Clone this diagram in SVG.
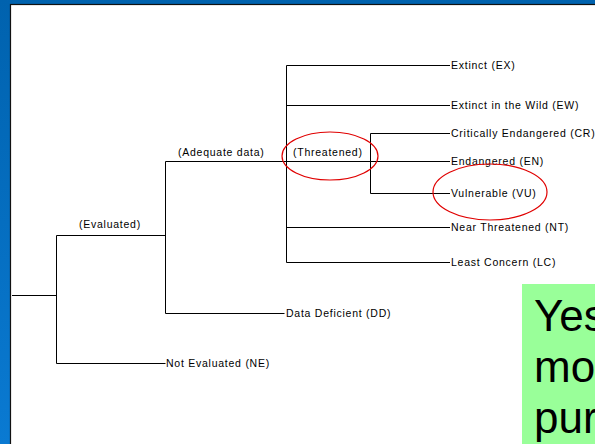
<svg xmlns="http://www.w3.org/2000/svg" width="595" height="444" viewBox="0 0 595 444">
<defs>
<linearGradient id="bg" x1="0" y1="0" x2="0" y2="1">
<stop offset="0" stop-color="#0062ae"/>
<stop offset="1" stop-color="#0a7ad2"/>
</linearGradient>
<style>
.ln{stroke:#000;stroke-width:1;fill:none}
.t{font-family:"Liberation Sans",Arial,sans-serif;font-size:10.5px;letter-spacing:0.75px;fill:#000}
.big{font-family:"Liberation Sans",Arial,sans-serif;font-size:44px;fill:#000}
.ring{fill:none;stroke:#e00000;stroke-width:1.2}
</style>
</defs>
<rect x="0" y="0" width="595" height="444" fill="url(#bg)"/>
<rect x="10.5" y="4.5" width="590" height="445" fill="#fff" stroke="#111" stroke-width="1.2"/>
<g id="connectors">
<path class="ln" d="M12 295.5H56.5M56.5 235.5V363.5M56.5 235.5H165.5M56.5 363.5H165.5M165.5 161.5V313.5M165.5 161.5H286.5M165.5 313.5H284.5M286.5 65.5V262.5M286.5 65.5H450M286.5 105.5H450M286.5 161.5H450M286.5 227.5H450M286.5 262.5H450M370.5 133.5V193.5M370.5 133.5H450M370.5 193.5H450"/>
</g>
<g id="n-evaluated"><text class="t" x="79" y="228">(Evaluated)</text></g>
<g id="n-ne"><text class="t" x="166" y="367">Not Evaluated (NE)</text></g>
<g id="n-adequate"><text class="t" x="178" y="156">(Adequate data)</text></g>
<g id="n-dd"><text class="t" x="286" y="317">Data Deficient (DD)</text></g>
<g id="n-threatened"><text class="t" x="293" y="156">(Threatened)</text></g>
<g id="n-ex"><text class="t" x="451" y="69">Extinct (EX)</text></g>
<g id="n-ew"><text class="t" x="451" y="109">Extinct in the Wild (EW)</text></g>
<g id="n-cr"><text class="t" x="451" y="137">Critically Endangered (CR)</text></g>
<g id="n-en"><text class="t" x="451" y="165">Endangered (EN)</text></g>
<g id="n-vu"><text class="t" x="451" y="197">Vulnerable (VU)</text></g>
<g id="n-nt"><text class="t" x="451" y="231">Near Threatened (NT)</text></g>
<g id="n-lc"><text class="t" x="451" y="266">Least Concern (LC)</text></g>
<ellipse class="ring" cx="330" cy="156" rx="48" ry="24"/>
<ellipse class="ring" cx="490" cy="192" rx="57" ry="28"/>
<g id="note">
<rect x="522" y="284" width="80" height="170" fill="#99ff99"/>
<text class="big" x="534" y="331">Yes</text>
<text class="big" x="534" y="382">mod</text>
<text class="big" x="534" y="433">pur</text>
</g>
</svg>
